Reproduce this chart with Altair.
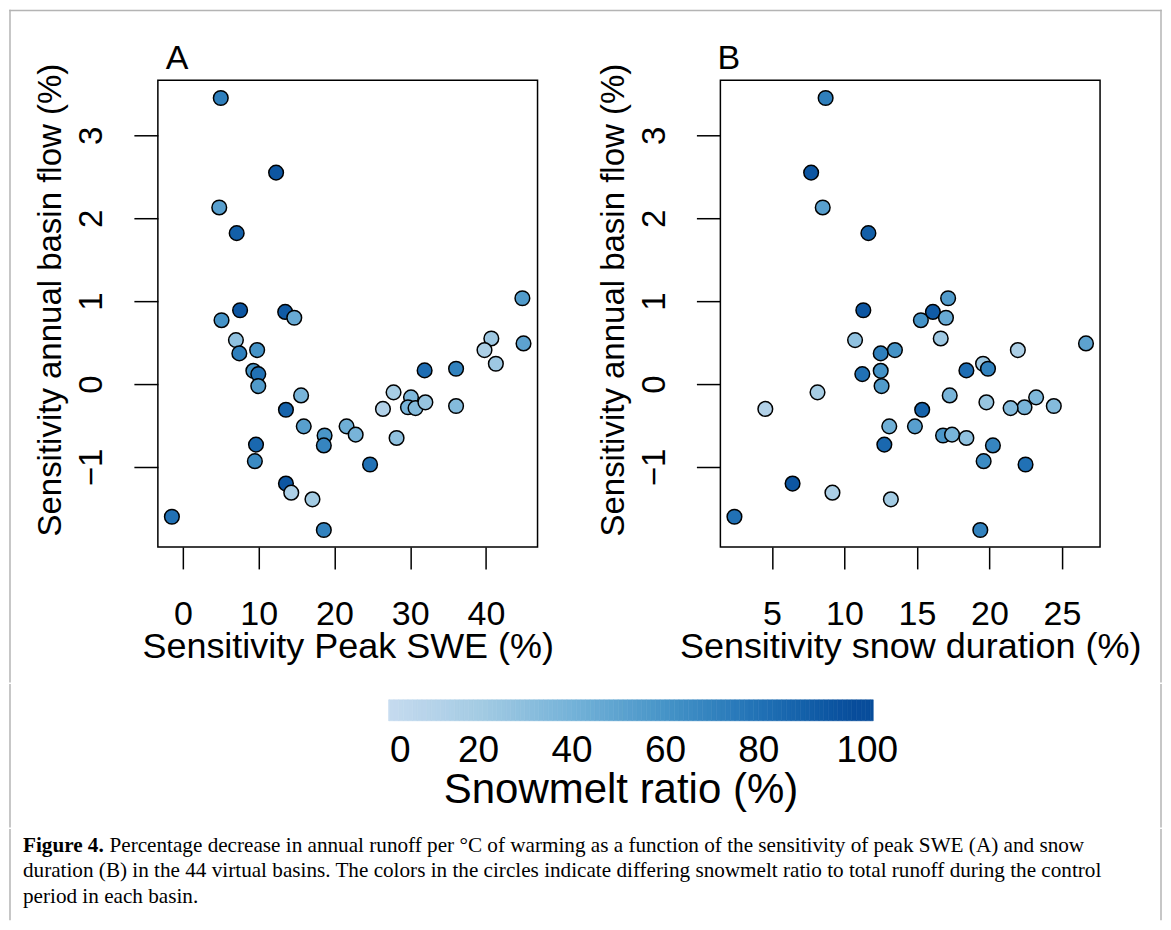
import altair as alt
import pandas as pd

# ---------------- data ----------------
flow = [3.45, 2.55, 2.13, 1.82, 1.035, 0.89, 0.87, 0.77, 0.80, 0.55, 0.53,
        0.37, 0.41, 0.41, 0.49, 0.245, 0.16, 0.12, -0.024, 0.165, 0.185,
        -0.137, -0.31, -0.51, -0.62, -0.74, -0.51, -0.61, -0.30, -0.10,
        -0.16, -0.28, -0.29, -0.22, -0.265, -0.65, -0.97, -0.73, -0.93,
        -1.20, -1.31, -1.39, -1.60, -1.76]
peak_swe = [5.0, 12.3, 4.8, 7.1, 44.8, 7.55, 13.5, 5.1, 14.7, 40.7, 7.0,
            7.45, 9.8, 39.8, 44.95, 41.3, 9.3, 9.95, 9.95, 31.9, 36.05,
            15.6, 13.6, 15.95, 18.7, 18.6, 21.6, 22.8, 26.4, 27.8,
            30.1, 29.7, 30.7, 32.0, 36.05, 28.2, 24.7, 9.65, 9.5,
            13.6, 14.3, 17.1, -1.45, 18.6]
snow_dur = [8.7, 7.7, 8.5, 11.65, 17.15, 11.3, 16.1, 15.27, 17.0, 16.64, 10.73,
            12.5, 13.48, 21.96, 26.66, 19.56, 12.5, 11.23, 12.56, 18.41, 19.9,
            17.26, 15.36, 14.86, 16.8, 20.24, 13.09, 17.42, 4.54, 8.14,
            23.22, 22.42, 21.46, 19.79, 24.44, 18.41, 22.49, 12.75, 19.6,
            6.42, 9.17, 13.2, 2.41, 19.37]
snowmelt = [72, 95, 52, 90, 55, 95, 92, 60, 45, 22, 28,
            72, 60, 15, 50, 22, 60, 80, 55, 82, 70,
            38, 88, 52, 58, 68, 42, 38, 12, 18,
            35, 38, 33, 25, 33, 28, 80, 85, 65,
            95, 15, 20, 80, 70]

x_ticks_a = [0, 10, 20, 30, 40]
x_ticks_b = [5, 10, 15, 20, 25]
y_ticks = [-1, 0, 1, 2, 3]
cbar_ticks = [0, 20, 40, 60, 80, 100]

color_domain = [0, 20, 40, 60, 80, 100]
color_range = ["#c6dbef", "#a3cbe3", "#73b2d8", "#4593c7", "#2171b5", "#084d9b"]

caption_bold = "Figure 4."
caption_lines = [
    "Percentage decrease in annual runoff per \u00b0C of warming as a function of the sensitivity of peak SWE (A) and snow",
    "duration (B) in the 44 virtual basins. The colors in the circles indicate differing snowmelt ratio to total runoff during the control",
    "period in each basin.",
]

# ---------------- chart ----------------
FONT = "Liberation Sans"
SERIF = "Liberation Serif"
W, H = 380, 467
FRAME = "#b4b4b4"

df = pd.DataFrame({"flow": flow, "swe": peak_swe, "dur": snow_dur, "ratio": snowmelt})
one = pd.DataFrame({"k": [0]})
color_scale = alt.Scale(domain=color_domain, range=color_range, clamp=True)

# every row shares the same origin: the left edge of panel A's plot (page x 157)
OX = 157
FL, FR = 9 - OX, 1161 - OX          # figure frame, left / right
Y1, Y2, YB = 680, 822, 912          # frame piece breaks (page y)


def vline(x, y1, y2):
    return alt.Chart(one).mark_rule(color=FRAME, strokeWidth=1.5, strokeCap="square").encode(
        x=alt.value(x), y=alt.value(y1), y2=alt.value(y2))


def hline(x1, x2, y):
    return alt.Chart(one).mark_rule(color=FRAME, strokeWidth=1.5, strokeCap="square").encode(
        x=alt.value(x1), x2=alt.value(x2), y=alt.value(y))


def letter(txt, dx):
    return alt.Chart(one).mark_text(text=txt, font=FONT, fontSize=34, align="left",
                                    baseline="alphabetic", color="black").encode(
        x=alt.value(dx), y=alt.value(-11))


y_axis = alt.Axis(values=y_ticks, title="Sensitivity annual basin flow (%)",
                  tickSize=24, tickWidth=1.5, tickColor="black", domain=False, grid=False,
                  labelAngle=270, labelAlign="center", labelBaseline="alphabetic",
                  labelPadding=32, labelFontSize=33, labelFont=FONT, labelColor="black",
                  labelFlush=False, labelOverlap=False,
                  titleFont=FONT, titleFontSize=33, titleFontWeight="normal", titleColor="black",
                  titleAngle=270, titleBaseline="alphabetic", titleAlign="center",
                  titleX=-97, titleY=219.5)


def panel(field, xtitle, xdomain, xticks, extra_layers):
    x_axis = alt.Axis(values=xticks, title=xtitle,
                      tickSize=22, tickWidth=1.5, tickColor="black", domain=False, grid=False,
                      labelBaseline="alphabetic", labelPadding=56, labelFontSize=34,
                      labelFont=FONT, labelColor="black", labelFlush=False, labelOverlap=False,
                      titleFont=FONT, titleFontSize=36, titleFontWeight="normal", titleColor="black",
                      titleBaseline="alphabetic", titleY=111)
    pts = alt.Chart(df).mark_circle(size=215, stroke="black", strokeWidth=1.5, opacity=1).encode(
        x=alt.X(f"{field}:Q", scale=alt.Scale(domain=xdomain, nice=False, zero=False), axis=x_axis),
        y=alt.Y("flow:Q", scale=alt.Scale(domain=[-1.964, 3.663], nice=False, zero=False), axis=y_axis),
        color=alt.Color("ratio:Q", scale=color_scale, legend=None),
    )
    return alt.layer(pts, *extra_layers).properties(
        width=W, height=H,
        view=alt.ViewBackground(stroke="black", strokeWidth=1.5),
    )


panel_a = panel("swe", "Sensitivity Peak SWE (%)", [-3.3, 46.8], x_ticks_a,
                [letter("A", 8), hline(FL, FR, 8 - 78), vline(FL, 8 - 78, Y1 - 78)])
panel_b = panel("dur", "Sensitivity snow duration (%)", [1.44, 27.63], x_ticks_b,
                [letter("B", -3), vline(1161 - 720, 8 - 78, Y1 - 78)])

# colour bar: row origin page (157, 695); bar spans page x 388..873, value 0 at page 384
CB_LO, CB_HI = 0.86, 104.6
cb_start = [CB_LO] + list(range(1, 105))
cb_end = list(range(1, 105)) + [CB_HI]
cb_df = pd.DataFrame({"v": cb_start, "v2": cb_end})
cbar_rects = alt.Chart(cb_df).mark_rect(strokeWidth=0.6).encode(
    x=alt.X("v:Q", scale=alt.Scale(domain=[0, CB_HI], range=[384 - OX, 873 - OX],
                                   nice=False, zero=False),
            axis=alt.Axis(values=cbar_ticks, title="Snowmelt ratio (%)", ticks=False, tickSize=0,
                          domain=False, grid=False, labelBaseline="alphabetic", labelPadding=41,
                          labelFontSize=37, labelFont=FONT, labelColor="black",
                          labelFlush=False, labelOverlap=False,
                          labelOffset=alt.condition("datum.value == 0 || datum.value == 100",
                                                    alt.value(15), alt.value(0)),
                          titleFont=FONT, titleFontSize=42, titleFontWeight="normal",
                          titleColor="black", titleBaseline="alphabetic", titleY=82,
                          titleX=620 - OX, titleAlign="center")),
    x2="v2:Q",
    color=alt.Color("v:Q", scale=color_scale, legend=None),
    stroke=alt.Stroke("v:Q", scale=color_scale, legend=None),
)
cbar = alt.layer(cbar_rects,
                 vline(FL, Y1 - 695, Y2 - 695),
                 vline(FR, Y1 - 695, Y2 - 695)).properties(
    width=944, height=21, view=alt.ViewBackground(strokeWidth=0))

# caption: row origin page (157, 830); text starts at page x 22
FS = 21.2
TX = 22 - OX
bold_w = (3.833 + 0.25) * FS
cap_base = alt.Chart(one)
cap_layers = [
    cap_base.mark_text(text=caption_bold, font=SERIF, fontSize=FS, fontWeight="bold",
                       align="left", baseline="alphabetic", color="black").encode(
        x=alt.value(TX), y=alt.value(14)),
]
for i, line in enumerate(caption_lines):
    cap_layers.append(
        cap_base.mark_text(text=line, font=SERIF, fontSize=FS, align="left",
                           baseline="alphabetic", color="black").encode(
            x=alt.value(TX + (bold_w if i == 0 else 0)), y=alt.value(14 + 25.5 * i)))
cap_layers += [vline(FL, Y2 - 830, YB - 830), vline(FR, Y2 - 830, YB - 830)]
caption = alt.layer(*cap_layers).properties(width=944, height=10,
                                            view=alt.ViewBackground(strokeWidth=0))

top = alt.hconcat(panel_a, panel_b, spacing=183, bounds="flush")
chart = alt.vconcat(top, cbar, caption, spacing=-1).properties(
    padding={"left": 0, "top": 0, "right": 0, "bottom": 0},
    background="white",
).configure_view(strokeWidth=0)

chart.save("out.html", embed_options={"renderer": "svg", "actions": False})
